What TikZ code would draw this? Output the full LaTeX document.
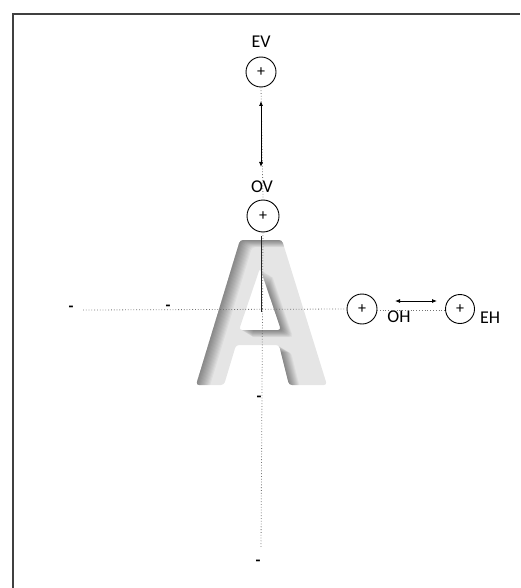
\documentclass[tikz,border=0pt]{standalone}
\usepackage{fontspec}
\setmainfont{Carlito}
\usetikzlibrary{arrows.meta}
\newcommand\Apathat[2]{(196+#1,385+#2) -- (240+#1,240+#2) -- (282+#1,240+#2) -- (327+#1,385+#2) -- (289+#1,385+#2) -- (279+#1,345+#2) -- (236+#1,345+#2) -- (224+#1,385+#2) -- cycle
 (281+#1,330+#2) -- (260+#1,268+#2) -- (239+#1,330+#2) -- cycle}
\begin{document}
\begin{tikzpicture}[x=1pt,y=-1pt,
  lbl/.style={font=\fontsize{18}{18}\selectfont, inner sep=0pt},
  tick/.style={font=\fontsize{16}{16}\selectfont\bfseries, inner sep=0pt},
  ring/.style={circle, draw, line width=0.9pt, fill=white, minimum size=#1, inner sep=0pt, font=\fontsize{16}{16}\selectfont},
  guide/.style={dotted, line width=0.8pt, black!55},
  dbl/.style={{Latex[length=5pt,width=4pt]}-{Latex[length=5pt,width=4pt]}, line width=0.8pt}]
\useasboundingbox (0,0) rectangle (520,588);
\draw[line width=1.5pt, black!75] (13,588) -- (13,14) -- (520,14);

% letter A with inner shadow
\fill[black!10, rounded corners=3pt] \Apathat{0}{0};
\begin{scope}
  \clip[rounded corners=3pt] \Apathat{0}{0};
  \foreach \d in {1,...,12} {
    \fill[black, opacity=0.04, even odd rule, rounded corners=3pt] (0,0) rectangle (520,588) \Apathat{\d}{0.6*\d};
  }
\end{scope}

% nodes
\node[ring=30pt] (ev) at (261,72) {+};
\node[lbl, anchor=base] (evl) at (261,48) {EV};
\node[ring=32pt] (ov) at (263,216) {+};
\node[lbl, anchor=base] (ovl) at (262,192) {OV};
\node[ring=30pt] (oh) at (362,309) {+};
\node[lbl, anchor=base] (ohl) at (399,322) {OH};
\node[ring=29pt] (eh) at (460,309) {+};
\node[lbl, anchor=base] (ehl) at (490,323) {EH};

\node[tick] (t1) at (71,309) {-};
\node[tick] (t2) at (168,308) {-};
\node[tick] (t3) at (259,399) {-};
\node[tick] (t4) at (258,563) {-};

\coordinate (vbot) at (261,548);
\coordinate (hleft) at (83,310);
\coordinate (ohr) at (377,310);
\coordinate (ehl2) at (446,310);
\coordinate (solidtop) at (261,236);
\coordinate (solidbot) at (261,312);

% guides
\draw[guide] (ev.south) -- (ov.north);
\draw[guide] (ov.south) -- (vbot);
\draw[black!85, line width=0.6pt] (solidtop) -- (solidbot);
\draw[guide] (hleft) -- (oh.west);
\draw[guide] (ohr) -- (ehl2);

% arrows
\coordinate (va) at (261,101);
\coordinate (vb) at (261,167);
\draw[dbl] (va) -- (vb);
\coordinate (ha) at (395,301);
\coordinate (hb) at (437,301);
\draw[dbl] (ha) -- (hb);
\end{tikzpicture}
\end{document}
